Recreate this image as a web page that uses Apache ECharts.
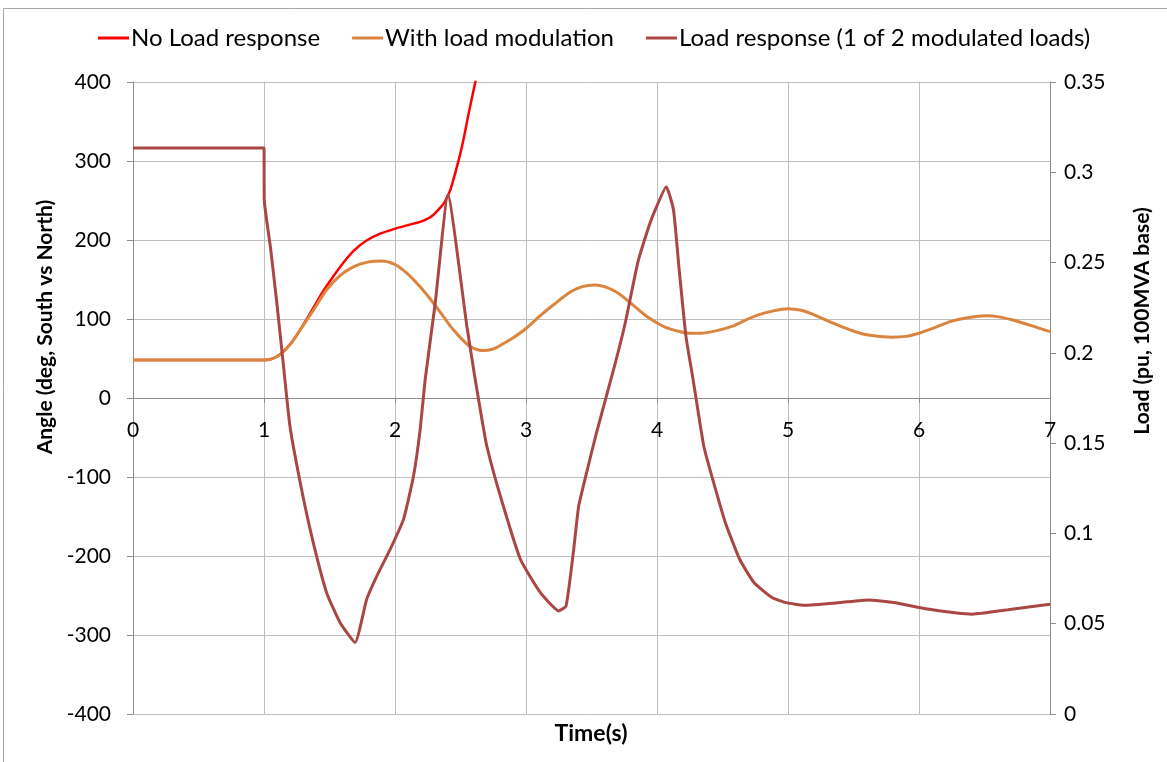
<!DOCTYPE html>
<html><head><meta charset="utf-8">
<script src="https://cdn.jsdelivr.net/npm/echarts@6/dist/echarts.min.js"></script>
<style>html,body{margin:0;padding:0;background:#fff}#c{width:1167px;height:762px}</style>
</head><body><div id="c"></div>
<script>
// ---- data ----
const seriesNames = ['No Load response', 'With load modulation', 'Load response (1 of 2 modulated loads)'];
const xTicks = [0, 1, 2, 3, 4, 5, 6, 7];

// No load response: angle (deg)
const timeNoLoad  = [0, 1.0, 1.06, 1.122, 1.2, 1.275, 1.376, 1.45, 1.529, 1.6, 1.682, 1.78, 1.886, 2.014, 2.1, 2.192, 2.25, 2.294, 2.34, 2.371, 2.4, 2.422, 2.46, 2.498, 2.53, 2.562, 2.613, 2.66];
const angleNoLoad = [48, 48, 49.5, 55, 68, 86, 114, 135, 154, 170, 186, 199, 208, 215, 219, 223, 227, 232, 240, 246, 255, 263, 285, 309, 333, 360, 400, 440];

// With load modulation: angle (deg)
const timeMod  = [0, 1.0, 1.06, 1.122, 1.2, 1.275, 1.376, 1.478, 1.58, 1.682, 1.79, 1.899, 2.0, 2.09, 2.19, 2.294, 2.37, 2.447, 2.52, 2.575, 2.664, 2.75, 2.829, 2.9, 3.0, 3.1, 3.21, 3.347, 3.43, 3.525, 3.6, 3.702, 3.8, 3.893, 3.97, 4.057, 4.15, 4.25, 4.331, 4.45, 4.577, 4.68, 4.768, 4.88, 5.0, 5.1, 5.205, 5.34, 5.478, 5.6, 5.792, 5.9, 6.0, 6.12, 6.243, 6.38, 6.516, 6.6, 6.708, 6.85, 7.0];
const angleMod = [48, 48, 49.5, 55, 68, 86, 111, 137, 155, 166, 172, 173.5, 169, 158, 141, 120, 103, 86, 73, 65, 60, 62, 69, 76, 88, 103, 118, 135, 141, 143, 141, 133, 120, 107, 98, 90, 85, 82, 82, 85, 91, 99, 105, 110, 113, 111, 105, 95, 86, 80, 77, 78, 82, 89, 97, 102, 104, 103, 99, 92, 84];

// Load response (1 of 2 modulated loads): load (pu, 100MVA base)
const timeLoad = [0, 1.0, 1.002, 1.05, 1.096, 1.147, 1.198, 1.287, 1.376, 1.478, 1.58, 1.695, 1.784, 1.861, 1.963, 2.065, 2.141, 2.192, 2.23, 2.307, 2.404, 2.549, 2.613, 2.664, 2.702, 2.804, 2.957, 3.11, 3.251, 3.306, 3.361, 3.402, 3.456, 3.538, 3.675, 3.757, 3.852, 3.921, 3.975, 4.071, 4.126, 4.167, 4.221, 4.276, 4.358, 4.44, 4.522, 4.631, 4.74, 4.877, 4.986, 5.123, 5.396, 5.615, 5.806, 6.079, 6.407, 6.68, 7.0];
const loadPu   = [0.3135, 0.3135, 0.2847, 0.258, 0.229, 0.194, 0.1595, 0.1243, 0.0949, 0.0672, 0.0507, 0.0396, 0.0636, 0.0764, 0.0912, 0.1078, 0.1317, 0.1575, 0.185, 0.2275, 0.2874, 0.2146, 0.185, 0.163, 0.148, 0.1207, 0.0857, 0.0672, 0.0571, 0.0599, 0.0893, 0.1151, 0.1317, 0.1557, 0.1925, 0.2164, 0.2496, 0.2662, 0.2772, 0.292, 0.2791, 0.2478, 0.2091, 0.185, 0.148, 0.1262, 0.1059, 0.0857, 0.0728, 0.0645, 0.0617, 0.0602, 0.0617, 0.0632, 0.0617, 0.058, 0.0553, 0.0577, 0.0608];

const zip = (a, b) => a.map((v, i) => [v, b[i]]);
const FONT = 'Lato, "Open Sans", sans-serif';

const chart = echarts.init(document.getElementById('c'), null, {renderer: 'canvas'});
chart.setOption({
  animation: false,
  backgroundColor: '#ffffff',
  textStyle: {fontFamily: FONT},
  legend: {
    left: 98, top: 26, padding: 0, itemWidth: 31, itemHeight: 3, itemGap: 32,
    icon: 'rect',
    textStyle: {fontFamily: FONT, fontSize: 24, color: '#000', padding: [0, 0, 0, -3]},
    data: seriesNames
  },
  grid: {left: 133, right: 117, top: 82, bottom: 48, containLabel: false},
  xAxis: {
    type: 'value', min: 0, max: 7, interval: 1,
    // axis line sits on angle = 0 (the middle of the -400..400 range)
    offset: -316,
    axisLine: {onZero: false, lineStyle: {color: '#8c8c8c', width: 1}},
    axisTick: {show: true, length: 5, lineStyle: {color: '#8c8c8c'}},
    axisLabel: {fontFamily: FONT, fontSize: 21, color: '#000', margin: 22,
      formatter: v => xTicks.includes(v) ? String(v) : ''},
    splitLine: {show: true, lineStyle: {color: '#bebebe', width: 1}}
  },
  yAxis: [{
    type: 'value', min: -400, max: 400, interval: 100, position: 'left',
    axisLine: {show: true, onZero: false, lineStyle: {color: '#8c8c8c'}},
    axisTick: {show: true, length: 6, lineStyle: {color: '#8c8c8c'}},
    axisLabel: {fontFamily: FONT, fontSize: 21, color: '#000', margin: 22},
    splitLine: {show: true, lineStyle: {color: '#bebebe', width: 1}}
  }, {
    type: 'value', min: 0, max: 0.35, interval: 0.05, position: 'right',
    axisLine: {show: true, onZero: false, lineStyle: {color: '#8c8c8c'}},
    axisTick: {show: true, length: 6, lineStyle: {color: '#8c8c8c'}},
    axisLabel: {fontFamily: FONT, fontSize: 21, color: '#000', margin: 14,
      formatter: v => String(Math.round(v * 100) / 100)},
    splitLine: {show: false}
  }],
  graphic: [
    {type: 'rect', shape: {x: 3.5, y: 8.5, width: 1300, height: 900}, style: {fill: 'none', stroke: '#a6a6a6', lineWidth: 1}, silent: true, z: -10},
    {type: 'text', x: 45, y: 327, rotation: Math.PI / 2,
      style: {text: 'Angle (deg, South vs North)', font: 'bold 21px ' + FONT, fill: '#000', align: 'center', verticalAlign: 'middle'}},
    {type: 'text', x: 1142, y: 321, rotation: Math.PI / 2,
      style: {text: 'Load (pu, 100MVA base)', font: 'bold 21px ' + FONT, fill: '#000', align: 'center', verticalAlign: 'middle'}},
    {type: 'text', x: 591, y: 734,
      style: {text: 'Time(s)', font: 'bold 23px ' + FONT, fill: '#000', align: 'center', verticalAlign: 'middle'}}
  ],
  series: [{
    name: seriesNames[0], type: 'line', yAxisIndex: 0, data: zip(timeNoLoad, angleNoLoad),
    showSymbol: false, smooth: 0.3, clip: true,
    lineStyle: {color: '#ff0000', width: 2.5}, itemStyle: {color: '#ff0000'}, z: 2
  }, {
    name: seriesNames[1], type: 'line', yAxisIndex: 0, data: zip(timeMod, angleMod),
    showSymbol: false, smooth: 0.3, clip: true,
    lineStyle: {color: '#db843d', width: 3}, itemStyle: {color: '#db843d'}, z: 3
  }, {
    name: seriesNames[2], type: 'line', yAxisIndex: 1, data: zip(timeLoad, loadPu),
    showSymbol: false, smooth: 0.15, clip: true,
    lineStyle: {color: '#aa4643', width: 3}, itemStyle: {color: '#aa4643'}, z: 4
  }]
});
</script></body></html>
